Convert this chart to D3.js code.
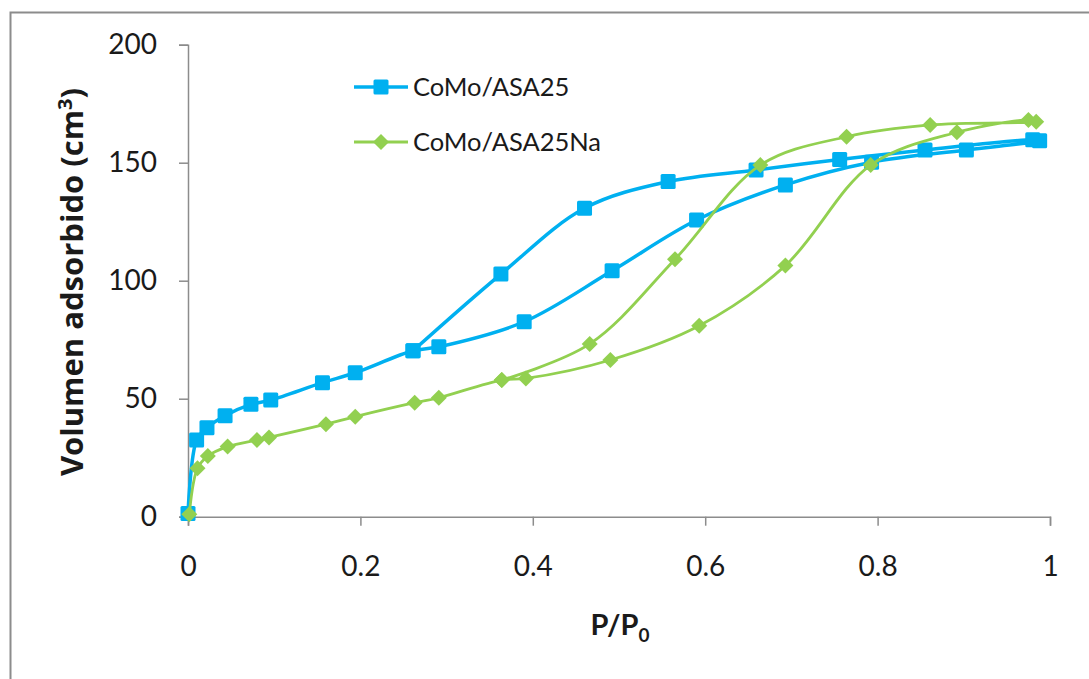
<html lang="es">

<head>
    <meta charset="UTF-8">
    <title>Isotermas CoMo/ASA25</title>
    <script src="https://d3js.org/d3.v7.js"></script>
    <style>
        body { margin: 0; background: #fff; }
        text { font-family: Lato, "Open Sans", sans-serif; fill: #1a1a1a; }
    </style>
</head>

<body>
    <div id="chart"></div>

    <script>
        // series data
        const seriesNames = ["CoMo/ASA25", "CoMo/ASA25Na"];

        // CoMo/ASA25 : adsorption then desorption
        const asaAdsX = [0, 0.010, 0.022, 0.043, 0.073, 0.096, 0.156, 0.194, 0.261, 0.291, 0.390, 0.492, 0.590, 0.693, 0.793, 0.903, 0.988];
        const asaAdsY = [1.4, 32.5, 37.7, 42.8, 47.6, 49.4, 56.8, 61.0, 70.3, 72.0, 82.6, 104.2, 125.7, 140.6, 150.2, 155.4, 159.3];
        const asaDesX = [0.980, 0.855, 0.756, 0.659, 0.557, 0.460, 0.363, 0.261];
        const asaDesY = [159.7, 155.4, 151.4, 146.9, 142.0, 130.7, 102.8, 70.3];

        // CoMo/ASA25Na : adsorption then desorption
        const naAdsX = [0.0015, 0.011, 0.023, 0.046, 0.080, 0.094, 0.160, 0.194, 0.263, 0.291, 0.364, 0.392, 0.490, 0.593, 0.693, 0.792, 0.892, 0.975];
        const naAdsY = [1.0, 20.5, 25.7, 29.7, 32.5, 33.6, 39.2, 42.4, 48.3, 50.4, 57.9, 58.6, 66.4, 80.9, 106.4, 149.0, 162.9, 168.1];
        const naDesX = [0.984, 0.861, 0.764, 0.664, 0.565, 0.466, 0.364];
        const naDesY = [167.4, 166.0, 161.0, 149.0, 109.1, 73.2, 57.9];

        const xTicks = [0, 0.2, 0.4, 0.6, 0.8, 1];
        const yTicks = [0, 50, 100, 150, 200];

        const width = 1089;
        const height = 679;

        const svg = d3.select("#chart").append("svg")
            .attr("width", width)
            .attr("height", height);

        // chart frame (only top and left edges are visible in the picture)
        svg.append("path")
            .attr("d", `M10.5,${height} V12.5 H${width}`)
            .attr("fill", "none")
            .attr("stroke", "#8c8c8c")
            .attr("stroke-width", 2);

        const x = d3.scaleLinear().domain([0, 1]).range([188, 1050]);
        const y = d3.scaleLinear().domain([0, 200]).range([516.7, 44.7]);

        // axes
        const xAxis = svg.append("g")
            .attr("transform", `translate(0,${y(0)})`)
            .call(d3.axisBottom(x).tickValues(xTicks).tickSize(9).tickPadding(30).tickFormat(d3.format("")));
        const yAxis = svg.append("g")
            .attr("transform", `translate(${x(0)},0)`)
            .call(d3.axisLeft(y).tickValues(yTicks).tickSize(9).tickPadding(22));

        [xAxis, yAxis].forEach(a => {
            a.select(".domain").attr("stroke", "#8c8c8c").attr("stroke-width", 1.5);
            a.selectAll(".tick line").attr("stroke", "#8c8c8c").attr("stroke-width", 1.5);
            a.selectAll(".tick text")
                .style("font-family", "Lato, sans-serif")
                .style("font-size", "28px")
                .attr("fill", "#1a1a1a");
        });

        // axis titles
        const yTitle = svg.append("text")
            .attr("transform", "translate(83,282) rotate(-90)")
            .attr("text-anchor", "middle")
            .style("font-family", "'Open Sans', sans-serif")
            .style("font-size", "31px")
            .style("font-weight", "bold")
            .text("Volumen adsorbido (cm");
        yTitle.append("tspan").attr("dy", -11).style("font-size", "20px").text("3");
        yTitle.append("tspan").attr("dy", 11).text(")");

        const xTitle = svg.append("text")
            .attr("x", 620)
            .attr("y", 635)
            .attr("text-anchor", "middle")
            .style("font-size", "29px")
            .style("font-weight", "bold")
            .text("P/P");
        xTitle.append("tspan").attr("dy", 7).style("font-size", "19px").text("0");

        const colors = ["#00b0f0", "#92d050"];
        const lineWidths = [3.5, 2.8];

        const series = [
            d3.zip(asaAdsX.concat(asaDesX), asaAdsY.concat(asaDesY)),
            d3.zip(naAdsX.concat(naDesX), naAdsY.concat(naDesY))
        ];

        const line = d3.line()
            .x(d => x(d[0]))
            .y(d => y(d[1]))
            .curve(d3.curveCatmullRom.alpha(0.5));

        const diamond = "M0,-8 L8,0 L0,8 L-8,0 Z";

        function marker(g, i) {
            if (i === 0) {
                g.append("rect")
                    .attr("x", -7.5).attr("y", -7.5)
                    .attr("width", 15).attr("height", 15)
                    .attr("rx", 1.5)
                    .attr("fill", colors[0]);
            } else {
                g.append("path")
                    .attr("d", diamond)
                    .attr("fill", colors[1]);
            }
        }

        series.forEach((pts, i) => {
            svg.append("path")
                .datum(pts)
                .attr("fill", "none")
                .attr("stroke", colors[i])
                .attr("stroke-width", lineWidths[i])
                .attr("stroke-linejoin", "round")
                .attr("d", line);

            svg.append("g")
                .selectAll("g")
                .data(pts)
                .join("g")
                .attr("transform", d => `translate(${x(d[0])},${y(d[1])})`)
                .each(function () { marker(d3.select(this), i); });
        });

        // legend
        const legend = svg.append("g");
        seriesNames.forEach((name, i) => {
            const ly = 87 + i * 55;
            legend.append("line")
                .attr("x1", 354).attr("x2", 408)
                .attr("y1", ly).attr("y2", ly)
                .attr("stroke", colors[i])
                .attr("stroke-width", lineWidths[i]);
            const g = legend.append("g").attr("transform", `translate(381,${ly})`);
            marker(g, i);
            legend.append("text")
                .attr("x", 413)
                .attr("y", ly)
                .attr("dy", "0.35em")
                .style("font-size", "25.5px")
                .text(name);
        });
    </script>
</body>

</html>
